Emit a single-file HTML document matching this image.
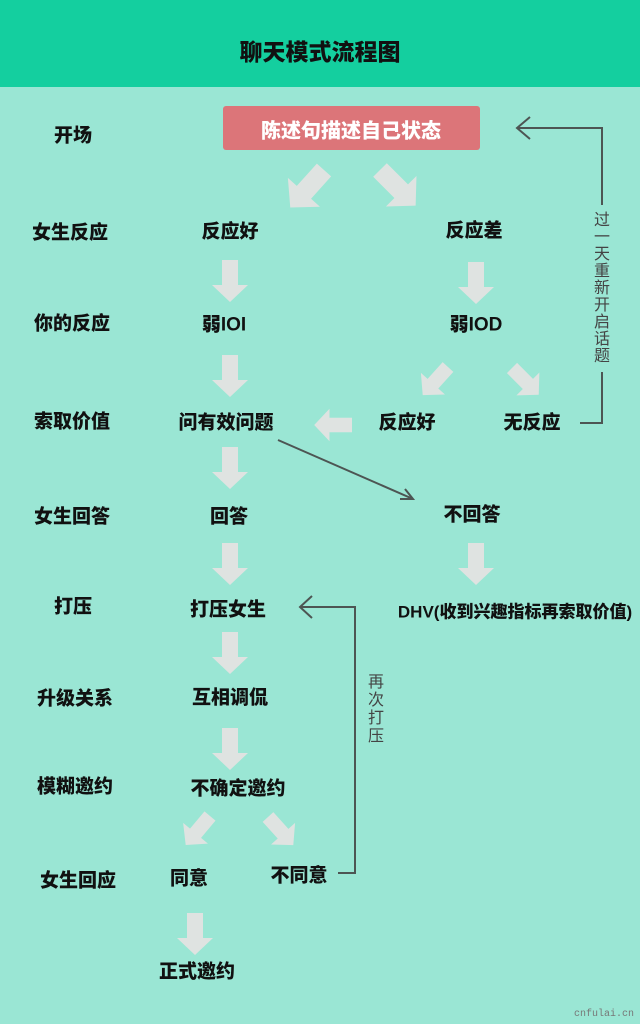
<!DOCTYPE html>
<html><head><meta charset="utf-8"><style>
body{margin:0;width:640px;height:1024px;background:#9ae6d4;position:relative;overflow:hidden;font-family:"Liberation Sans","Noto Sans CJK SC",sans-serif;}
.h{position:absolute;left:0;top:0;width:640px;height:87px;background:#14cf9f;}
.t{position:absolute;font-weight:900;font-size:19px;color:#111;white-space:nowrap;transform:translate(-50%,-50%);}
.v{position:absolute;font-size:16px;color:#444;width:20px;line-height:17px;text-align:center;}
svg{position:absolute;left:0;top:0;}
</style></head><body>
<div class="h"></div>
<div class="t" style="left:320px;top:50px;font-size:23px">聊天模式流程图</div>
<div style="position:absolute;left:223px;top:106px;width:257px;height:44px;background:#dc7579;border-radius:3px"></div>
<div class="t" style="left:351px;top:129px;color:#fff;font-size:20px">陈述句描述自己状态</div>
<svg width="640" height="1024">
<defs><path id="a" d="M-8 0H8V25H18L0 42L-18 25H-8Z" fill="#dfe3e1"/></defs>
<use href="#a" transform="translate(230,260)"/>
<use href="#a" transform="translate(230,355)"/>
<use href="#a" transform="translate(230,447)"/>
<use href="#a" transform="translate(230,543)"/>
<use href="#a" transform="translate(230,632)"/>
<use href="#a" transform="translate(230,728)"/>
<use href="#a" transform="translate(476,262)"/>
<use href="#a" transform="translate(476,543)"/>
<use href="#a" transform="translate(195,913)"/>
<use href="#a" transform="translate(324,170) rotate(42) scale(1.2)"/>
<use href="#a" transform="translate(380,170) rotate(-45) scale(1.2)"/>
<use href="#a" transform="translate(448,367) rotate(42) scale(.9)"/>
<use href="#a" transform="translate(512,368) rotate(-45) scale(.9)"/>
<use href="#a" transform="translate(352,425) rotate(90) scale(.9)"/>
<use href="#a" transform="translate(210,816) rotate(40) scale(.9)"/>
<use href="#a" transform="translate(268,817) rotate(-42) scale(.9)"/>
<g stroke="#4d5553" stroke-width="2" fill="none">
<path d="M517 128H602V205M602 372V423H580"/>
<path d="M530 117L517 128L530 139"/>
<path d="M300 607H355V873H338"/>
<path d="M312 596L300 607L312 618"/>
<path d="M278 440L413 499"/>
<path d="M400 499L413 499L405 489"/>
</g>
</svg>
<div class="v" style="left:592px;top:212px">过一天重新开启话题</div>
<div class="v" style="left:366px;top:674px;line-height:18px">再次打压</div>
<div class="t" style="left:73px;top:134px">开场</div>
<div class="t" style="left:70px;top:231px">女生反应</div>
<div class="t" style="left:72px;top:322px">你的反应</div>
<div class="t" style="left:72px;top:420px">索取价值</div>
<div class="t" style="left:72px;top:515px">女生回答</div>
<div class="t" style="left:73px;top:605px">打压</div>
<div class="t" style="left:75px;top:697px">升级关系</div>
<div class="t" style="left:75px;top:785px">模糊邀约</div>
<div class="t" style="left:78px;top:879px">女生回应</div>
<div class="t" style="left:230px;top:230px">反应好</div>
<div class="t" style="left:474px;top:229px">反应差</div>
<div class="t" style="left:224px;top:323px">弱IOI</div>
<div class="t" style="left:476px;top:323px">弱IOD</div>
<div class="t" style="left:226px;top:421px">问有效问题</div>
<div class="t" style="left:407px;top:421px">反应好</div>
<div class="t" style="left:532px;top:421px">无反应</div>
<div class="t" style="left:229px;top:515px">回答</div>
<div class="t" style="left:472px;top:513px">不回答</div>
<div class="t" style="left:228px;top:608px">打压女生</div>
<div class="t" style="left:515px;top:610px;font-size:17px">DHV(收到兴趣指标再索取价值)</div>
<div class="t" style="left:230px;top:696px">互相调侃</div>
<div class="t" style="left:238px;top:787px">不确定邀约</div>
<div class="t" style="left:189px;top:877px">同意</div>
<div class="t" style="left:299px;top:874px">不同意</div>
<div class="t" style="left:197px;top:970px">正式邀约</div>
<div style="position:absolute;left:574px;top:1009px;font-family:'Liberation Mono',monospace;font-size:10px;color:#777">cnfulai.cn</div>
</body></html>
